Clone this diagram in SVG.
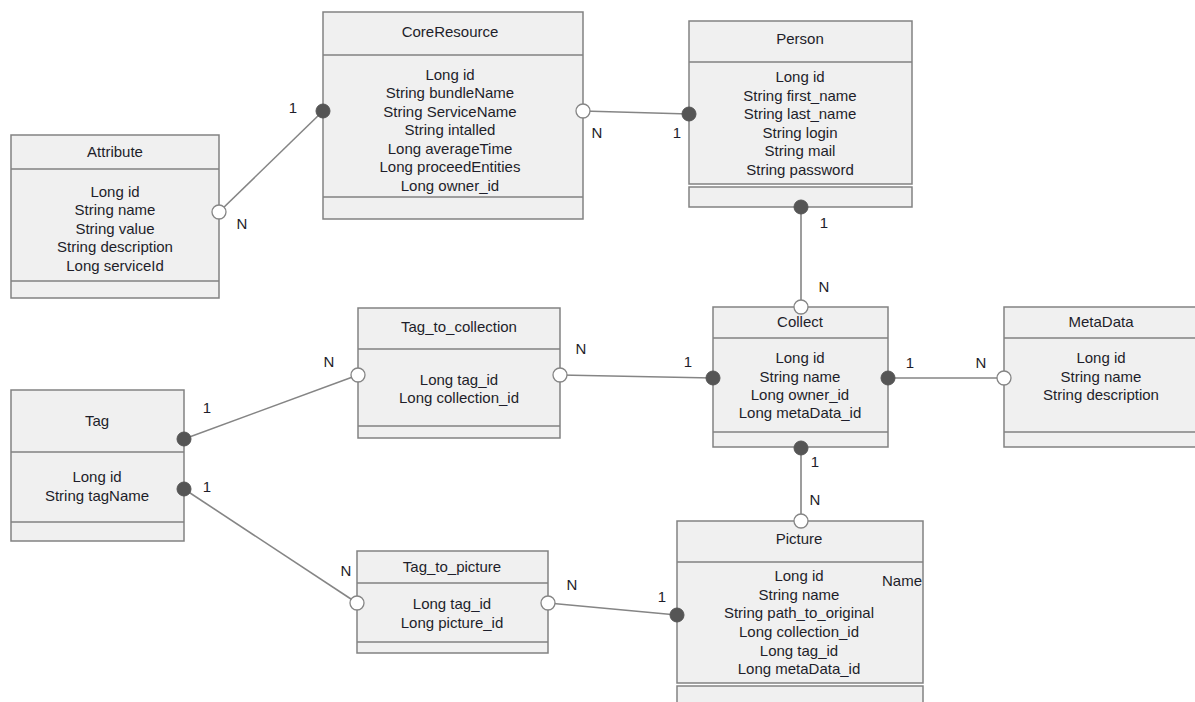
<svg xmlns="http://www.w3.org/2000/svg" width="1195" height="702" viewBox="0 0 1195 702">
<style>
.box{fill:#f0f0f0;stroke:#828282;stroke-width:1.5}
.sep{stroke:#828282;stroke-width:1.5}
.t{font-family:"Liberation Sans",Arial,sans-serif;font-size:15px;fill:#1e1e2a;text-anchor:middle}
.lbl{font-family:"Liberation Sans",Arial,sans-serif;font-size:15px;fill:#1e1e2a;text-anchor:middle}
.conn{stroke:#858585;stroke-width:1.6;fill:none}
.one{fill:#555555;stroke:#555555;stroke-width:1}
.many{fill:#ffffff;stroke:#858585;stroke-width:1.3}
</style>
<rect width="1195" height="702" fill="#ffffff"/>

<g id="connectors">
<line class="conn" x1="219" y1="212" x2="323" y2="111"/>
<line class="conn" x1="583" y1="111" x2="689" y2="114"/>
<line class="conn" x1="801" y1="207" x2="801" y2="307"/>
<line class="conn" x1="560" y1="375" x2="713" y2="378"/>
<line class="conn" x1="888" y1="378" x2="1004" y2="378"/>
<line class="conn" x1="801" y1="448" x2="801" y2="521"/>
<line class="conn" x1="184" y1="439" x2="358" y2="375"/>
<line class="conn" x1="184" y1="489" x2="357" y2="603"/>
<line class="conn" x1="548" y1="603" x2="677" y2="615"/>
</g>

<g id="Attribute">
<rect class="box" x="11" y="135" width="208" height="163"/>
<line class="sep" x1="11" y1="169" x2="219" y2="169"/>
<line class="sep" x1="11" y1="281" x2="219" y2="281"/>
<text class="t" x="115" y="157">Attribute</text>
<text class="t" x="115" y="197">Long id</text>
<text class="t" x="115" y="215">String name</text>
<text class="t" x="115" y="234">String value</text>
<text class="t" x="115" y="252">String description</text>
<text class="t" x="115" y="271">Long serviceId</text>
</g>

<g id="CoreResource">
<rect class="box" x="323" y="12" width="260" height="207"/>
<line class="sep" x1="323" y1="55" x2="583" y2="55"/>
<line class="sep" x1="323" y1="197" x2="583" y2="197"/>
<text class="t" x="450" y="37">CoreResource</text>
<text class="t" x="450" y="80">Long id</text>
<text class="t" x="450" y="98">String bundleName</text>
<text class="t" x="450" y="117">String ServiceName</text>
<text class="t" x="450" y="135">String intalled</text>
<text class="t" x="450" y="154">Long averageTime</text>
<text class="t" x="450" y="172">Long proceedEntities</text>
<text class="t" x="450" y="191">Long owner_id</text>
</g>

<g id="Person">
<rect class="box" x="689" y="21" width="223" height="163"/>
<line class="sep" x1="689" y1="62" x2="912" y2="62"/>
<rect class="box" x="689" y="187" width="223" height="20"/>
<text class="t" x="800" y="44">Person</text>
<text class="t" x="800" y="82">Long id</text>
<text class="t" x="800" y="101">String first_name</text>
<text class="t" x="800" y="119">String last_name</text>
<text class="t" x="800" y="138">String login</text>
<text class="t" x="800" y="156">String mail</text>
<text class="t" x="800" y="175">String password</text>
</g>

<g id="Tag">
<rect class="box" x="11" y="390" width="173" height="151"/>
<line class="sep" x1="11" y1="452" x2="184" y2="452"/>
<line class="sep" x1="11" y1="522" x2="184" y2="522"/>
<text class="t" x="97" y="426">Tag</text>
<text class="t" x="97" y="482">Long id</text>
<text class="t" x="97" y="501">String tagName</text>
</g>

<g id="Tag_to_collection">
<rect class="box" x="358" y="308" width="202" height="130"/>
<line class="sep" x1="358" y1="349" x2="560" y2="349"/>
<line class="sep" x1="358" y1="426" x2="560" y2="426"/>
<text class="t" x="459" y="332">Tag_to_collection</text>
<text class="t" x="459" y="385">Long tag_id</text>
<text class="t" x="459" y="403">Long collection_id</text>
</g>

<g id="Collect">
<rect class="box" x="713" y="307" width="175" height="140"/>
<line class="sep" x1="713" y1="338" x2="888" y2="338"/>
<line class="sep" x1="713" y1="432" x2="888" y2="432"/>
<text class="t" x="800" y="327">Collect</text>
<text class="t" x="800" y="363">Long id</text>
<text class="t" x="800" y="382">String name</text>
<text class="t" x="800" y="400">Long owner_id</text>
<text class="t" x="800" y="418">Long metaData_id</text>
</g>

<g id="MetaData">
<rect class="box" x="1004" y="307" width="193" height="140"/>
<line class="sep" x1="1004" y1="338" x2="1197" y2="338"/>
<line class="sep" x1="1004" y1="432" x2="1197" y2="432"/>
<text class="t" x="1101" y="327">MetaData</text>
<text class="t" x="1101" y="363">Long id</text>
<text class="t" x="1101" y="382">String name</text>
<text class="t" x="1101" y="400">String description</text>
</g>

<g id="Tag_to_picture">
<rect class="box" x="357" y="551" width="191" height="102"/>
<line class="sep" x1="357" y1="583" x2="548" y2="583"/>
<line class="sep" x1="357" y1="642" x2="548" y2="642"/>
<text class="t" x="452" y="572">Tag_to_picture</text>
<text class="t" x="452" y="609">Long tag_id</text>
<text class="t" x="452" y="628">Long picture_id</text>
</g>

<g id="Picture">
<rect class="box" x="677" y="521" width="246" height="162"/>
<line class="sep" x1="677" y1="562" x2="923" y2="562"/>
<rect class="box" x="677" y="686" width="246" height="30"/>
<text class="t" x="799" y="544">Picture</text>
<text class="t" x="799" y="581">Long id</text>
<text class="t" x="799" y="600">String name</text>
<text class="t" x="799" y="618">String path_to_original</text>
<text class="t" x="799" y="637">Long collection_id</text>
<text class="t" x="799" y="656">Long tag_id</text>
<text class="t" x="799" y="674">Long metaData_id</text>
<text class="t" x="902" y="586">Name</text>
</g>

<g id="ends">
<circle class="one" cx="323" cy="111" r="7"/>
<circle class="many" cx="219" cy="212" r="7"/>
<circle class="many" cx="583" cy="111" r="7"/>
<circle class="one" cx="689" cy="114" r="7"/>
<circle class="one" cx="801" cy="207" r="7"/>
<circle class="many" cx="801" cy="307" r="7"/>
<circle class="many" cx="560" cy="375" r="7"/>
<circle class="one" cx="713" cy="378" r="7"/>
<circle class="one" cx="888" cy="378" r="7"/>
<circle class="many" cx="1004" cy="378" r="7"/>
<circle class="one" cx="801" cy="448" r="7"/>
<circle class="many" cx="801" cy="521" r="7"/>
<circle class="one" cx="184" cy="439" r="7"/>
<circle class="many" cx="358" cy="375" r="7"/>
<circle class="one" cx="184" cy="489" r="7"/>
<circle class="many" cx="357" cy="603" r="7"/>
<circle class="many" cx="548" cy="603" r="7"/>
<circle class="one" cx="677" cy="615" r="7"/>
</g>

<g id="labels">
<text class="lbl" x="293" y="113">1</text>
<text class="lbl" x="242" y="229">N</text>
<text class="lbl" x="597" y="138">N</text>
<text class="lbl" x="677" y="138">1</text>
<text class="lbl" x="824" y="228">1</text>
<text class="lbl" x="824" y="292">N</text>
<text class="lbl" x="581" y="354">N</text>
<text class="lbl" x="688" y="367">1</text>
<text class="lbl" x="910" y="368">1</text>
<text class="lbl" x="981" y="368">N</text>
<text class="lbl" x="815" y="467">1</text>
<text class="lbl" x="815" y="505">N</text>
<text class="lbl" x="207" y="413">1</text>
<text class="lbl" x="329" y="367">N</text>
<text class="lbl" x="207" y="492">1</text>
<text class="lbl" x="346" y="576">N</text>
<text class="lbl" x="572" y="590">N</text>
<text class="lbl" x="662" y="602">1</text>
</g>
</svg>
